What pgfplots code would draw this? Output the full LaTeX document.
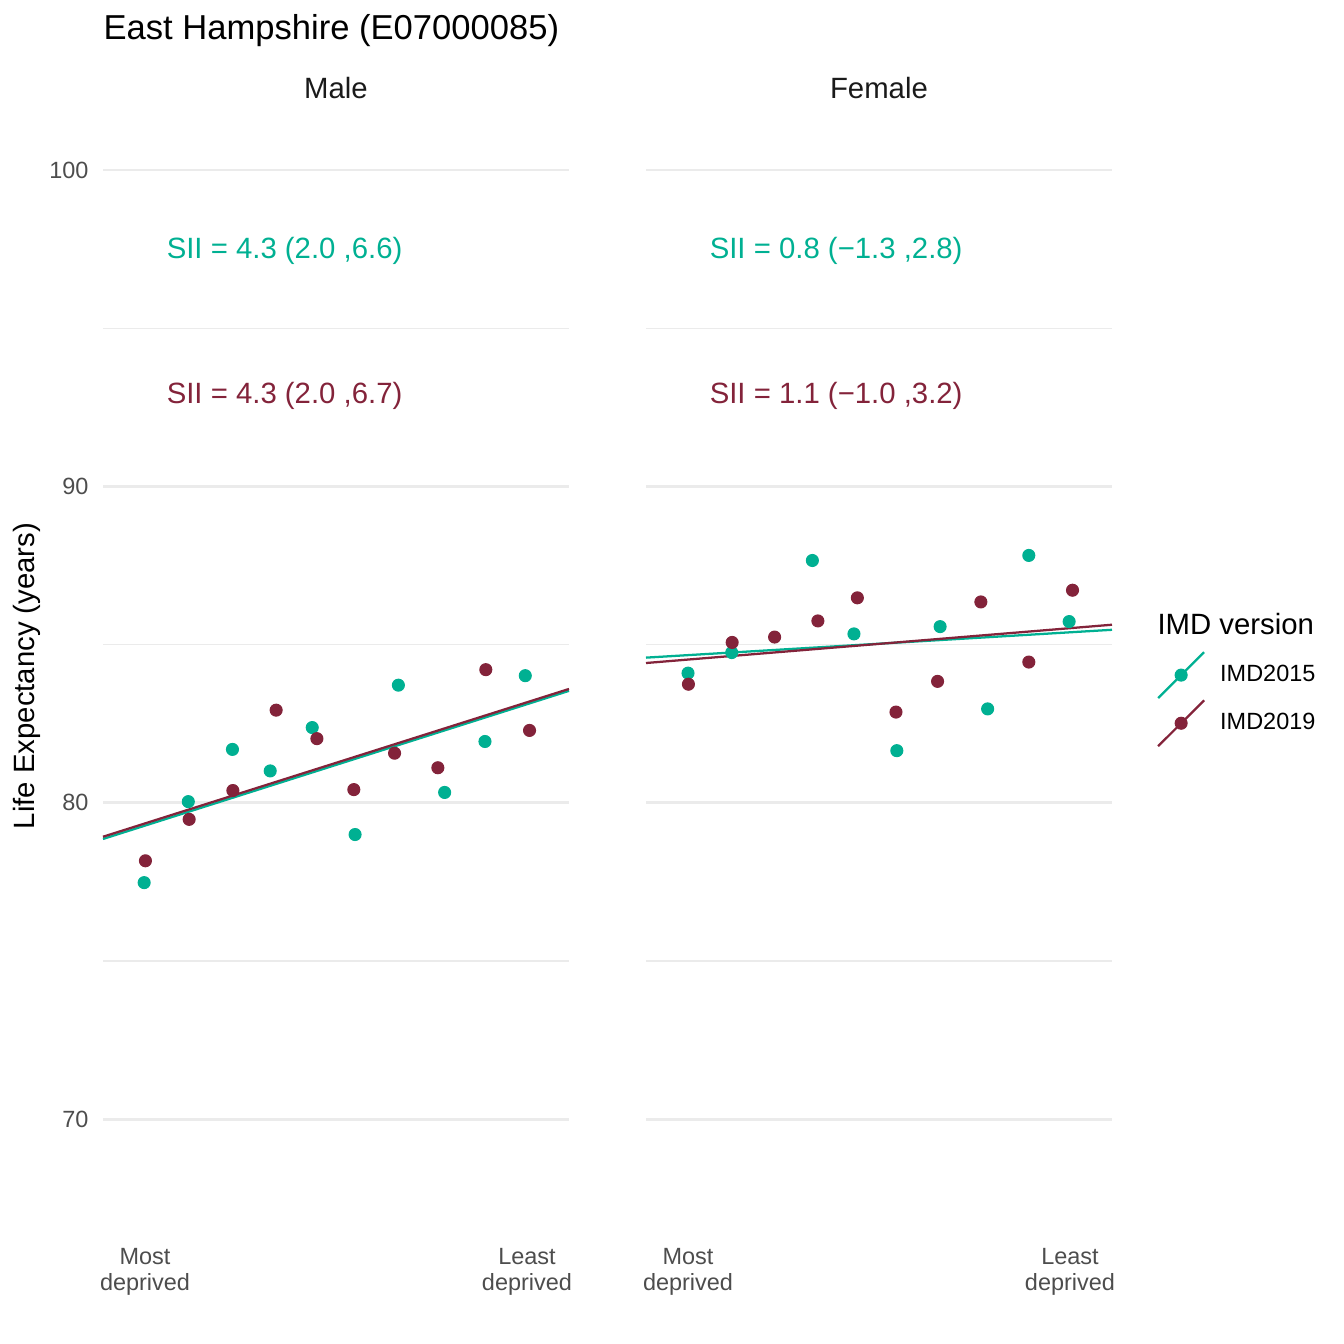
\documentclass[border=0pt]{standalone}
\usepackage{fontspec}
\setmainfont{Liberation Sans}
\usepackage{pgfplots}
\pgfplotsset{compat=1.18}
\definecolor{c15}{HTML}{00B092}
\definecolor{c19}{HTML}{83233A}
\definecolor{gridc}{HTML}{EBEBEB}
\definecolor{tickc}{HTML}{4D4D4D}
\definecolor{stripc}{HTML}{1A1A1A}
\tikzset{sii/.style={anchor=base west, inner sep=0pt, font=\fontsize{11}{13.2}\selectfont}}
\pgfplotsset{
 panel/.style={
  scale only axis, width=174.75pt, height=421.5pt,
  xmin=0.01, xmax=10.99, ymin=66.25, ymax=101.77,
  axis line style={draw=none},
  major tick length=0pt, minor tick length=0pt,
  xtick={1,10}, xticklabels={{Most\\deprived},{Least\\deprived}},
  xticklabel style={align=center, font=\fontsize{8.8}{9.75}\selectfont, text=tickc, inner sep=0pt, yshift=-3.75pt},
  ytick={70,80,90,100}, minor ytick={75,85,95},
  ymajorgrids, yminorgrids,
  major grid style={gridc, line width=1.07pt},
  minor grid style={gridc, line width=0.53pt},
  yticklabel style={font=\fontsize{8.8}{10.56}\selectfont, text=tickc, inner sep=0pt, xshift=-5.25pt},
  /pgf/number format/assume math mode=true,
  clip=false,
 },
 p15/.style={only marks, mark=*, mark size=2.25pt, color=c15, mark options={draw=none, fill=c15}},
 p19/.style={only marks, mark=*, mark size=2.25pt, color=c19, mark options={draw=none, fill=c19}},
}
\begin{document}
\begin{tikzpicture}
\path[use as bounding box] (0,0) rectangle (504pt,504pt);
\node[anchor=base west, inner sep=0pt, font=\fontsize{12.97}{15.6}\selectfont] at (38.625pt,489pt) {East Hampshire (E07000085)};
\node[anchor=base, inner sep=0pt, text=stripc, font=\fontsize{11}{13.2}\selectfont] at (126pt,467.06pt) {Male};
\node[anchor=base, inner sep=0pt, text=stripc, font=\fontsize{11}{13.2}\selectfont] at (329.6pt,467.06pt) {Female};

% Male panel
\begin{axis}[panel, at={(38.625pt,39.75pt)}, anchor=south west,
  ylabel={Life Expectancy (years)},
  ylabel style={at={(axis description cs:-0.1631,0.5)}, anchor=center, font=\fontsize{11}{13.2}\selectfont}]
\addplot[c15, line width=0.85pt] coordinates {(0.01,78.86) (10.99,83.54)};
\addplot[c19, line width=0.85pt] coordinates {(0.01,78.93) (10.99,83.60)};
\addplot[p15] coordinates {
(0.98,77.48) (2.02,80.04) (3.06,81.69) (3.95,81.01) (4.94,82.38)
(5.95,79.00) (6.97,83.72) (8.06,80.33) (9.01,81.94) (9.96,84.02)};
\addplot[p19] coordinates {
(1.01,78.17) (2.04,79.48) (3.07,80.39) (4.09,82.93) (5.05,82.03)
(5.92,80.42) (6.88,81.57) (7.90,81.11) (9.03,84.21) (10.06,82.29)};
\node[sii, text=c15] at (axis cs:1.5,97.19) {SII = 4.3 (2.0 ,6.6)};
\node[sii, text=c19] at (axis cs:1.5,92.63) {SII = 4.3 (2.0 ,6.7)};
\end{axis}

% Female panel
\begin{axis}[panel, at={(242.25pt,39.75pt)}, anchor=south west,
  yticklabels={},
  legend style={at={(axis description cs:1.0966,0.5222)}, anchor=north west,
    draw=none, fill=none, inner sep=0pt, outer sep=0pt, row sep=0pt,
    font=\fontsize{8.8}{10.56}\selectfont,
    nodes={inner sep=0pt},
    /tikz/every odd column/.append style={column sep=5.6pt}},
  legend cell align=left]
\addlegendimage{legend image code/.code={\draw[c15,line width=0.85pt] (0pt,-8.6pt) -- (17.25pt,8.6pt); \fill[c15] (8.625pt,0pt) circle (2.25pt);}}
\addlegendentry{IMD2015}
\addlegendimage{legend image code/.code={\draw[c19,line width=0.85pt] (0pt,-8.6pt) -- (17.25pt,8.6pt); \fill[c19] (8.625pt,0pt) circle (2.25pt);}}
\addlegendentry{IMD2019}
\addplot[c15, line width=0.85pt] coordinates {(0.01,84.59) (10.99,85.47)};
\addplot[c19, line width=0.85pt] coordinates {(0.01,84.42) (10.99,85.63)};
\addplot[p15] coordinates {
(1.00,84.10) (2.03,84.75) (3.93,87.66) (4.91,85.34)
(5.92,81.65) (6.94,85.57) (8.06,82.97) (9.03,87.82) (9.98,85.73)};
\addplot[p19] coordinates {
(1.01,83.75) (2.04,85.07) (3.04,85.24) (4.06,85.75) (4.99,86.48)
(5.90,82.87) (6.88,83.84) (7.90,86.35) (9.03,84.45) (10.06,86.72)};
\node[sii, text=c15] at (axis cs:1.5,97.19) {SII = 0.8 (−1.3 ,2.8)};
\node[sii, text=c19] at (axis cs:1.5,92.63) {SII = 1.1 (−1.0 ,3.2)};
\node[anchor=base west, inner sep=0pt, font=\fontsize{11}{13.2}\selectfont] at (axis description cs:1.0966,0.537) {IMD version};
\end{axis}
\end{tikzpicture}
\end{document}
